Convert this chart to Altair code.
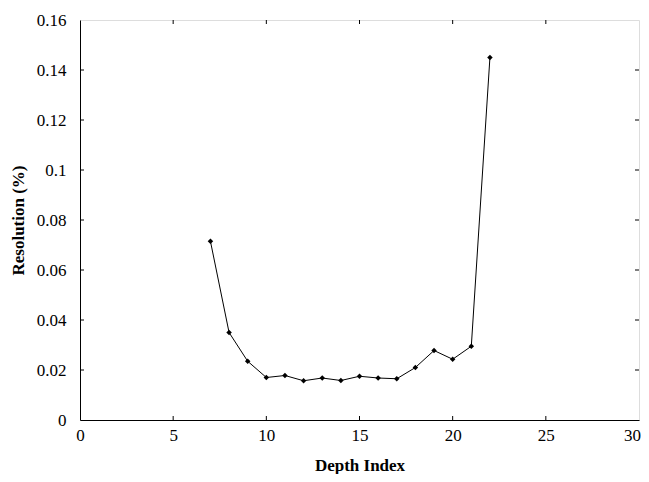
import altair as alt
import pandas as pd

depth = [7, 8, 9, 10, 11, 12, 13, 14, 15, 16, 17, 18, 19, 20, 21, 22]
resolution = [0.0715, 0.035, 0.0235, 0.017, 0.0178, 0.0157, 0.0168, 0.0158,
              0.0175, 0.0168, 0.0165, 0.021, 0.0278, 0.0243, 0.0295, 0.145]
x_ticks = [5, 10, 15, 20, 25]
y_ticks = [0.02, 0.04, 0.06, 0.08, 0.1, 0.12, 0.14]

df = pd.DataFrame({"depth": depth, "res": resolution})
xt = pd.DataFrame({"t": x_ticks})
yt = pd.DataFrame({"t": y_ticks})

W, H = 559, 400
FONT = "Liberation Serif"

xscale = alt.Scale(domain=[0, 30], nice=False, zero=False)
yscale = alt.Scale(domain=[0, 0.16], nice=False)

xaxis = alt.Axis(values=[0, 5, 10, 15, 20, 25, 30], tickSize=0, labelPadding=7,
                 grid=False, labelFont=FONT, labelFontSize=17, labelColor="black",
                 labelOffset=alt.expr("datum.value == 30 ? -7 : 0"),
                 title="Depth Index", titleFont=FONT, titleFontSize=17,
                 titleFontWeight="bold", titlePadding=14, titleColor="black",
                 domainColor="black", labelFlush=False)
yaxis = alt.Axis(values=[0, 0.02, 0.04, 0.06, 0.08, 0.1, 0.12, 0.14, 0.16],
                 tickSize=0, labelPadding=14, grid=False, labelFont=FONT,
                 labelFontSize=17, labelColor="black",
                 labelExpr="datum.value == 0 ? '0' : format(datum.value, '.2~f')",
                 title="Resolution (%)", titleFont=FONT, titleFontSize=17,
                 titleFontWeight="bold", titlePadding=9, titleColor="black",
                 domainColor="black", labelFlush=False)

line = alt.Chart(df).mark_line(color="black", strokeWidth=1).encode(
    x=alt.X("depth:Q", scale=xscale, axis=xaxis),
    y=alt.Y("res:Q", scale=yscale, axis=yaxis),
)
pts = alt.Chart(df).mark_point(shape="diamond", filled=True, color="black",
                               size=30, opacity=1).encode(
    x=alt.X("depth:Q", scale=xscale),
    y=alt.Y("res:Q", scale=yscale),
)

tick_len = 4
xb = alt.Chart(xt).mark_rule(color="black", strokeWidth=1).encode(
    x=alt.X("t:Q", scale=xscale), y=alt.value(H), y2=alt.value(H - tick_len))
xtp = alt.Chart(xt).mark_rule(color="black", strokeWidth=1).encode(
    x=alt.X("t:Q", scale=xscale), y=alt.value(0), y2=alt.value(tick_len))
yl = alt.Chart(yt).mark_rule(color="black", strokeWidth=1).encode(
    y=alt.Y("t:Q", scale=yscale), x=alt.value(0), x2=alt.value(tick_len))
yr = alt.Chart(yt).mark_rule(color="black", strokeWidth=1).encode(
    y=alt.Y("t:Q", scale=yscale), x=alt.value(W), x2=alt.value(W - tick_len))

chart = alt.layer(xb, xtp, yl, yr, line, pts).properties(
    width=W, height=H,
    autosize=alt.AutoSizeParams(type="none"),
    padding={"left": 72, "top": 12, "right": 2, "bottom": 54},
).configure_view(stroke="black", strokeWidth=1).configure(background="white")

chart.save("out.html", embed_options={"renderer": "svg", "actions": False})
